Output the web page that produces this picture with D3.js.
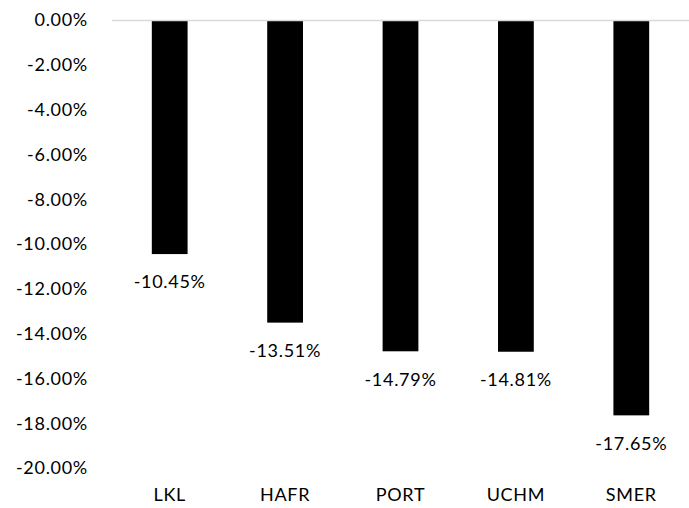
<!DOCTYPE html>
<html>
<head>
<meta charset="utf-8">
<script src="https://cdn.jsdelivr.net/npm/d3@7"></script>
<style>
  body { margin: 0; background: #fff; }
  text { font-family: "Lato", "Open Sans", sans-serif; font-size: 18px; letter-spacing: 0.7px; fill: #000; }
</style>
</head>
<body>
<svg id="chart" width="689" height="508"></svg>
<script>
var categories = ["LKL", "HAFR", "PORT", "UCHM", "SMER"];
var values = [-10.45, -13.51, -14.79, -14.81, -17.65];
var tickValues = [0, -2, -4, -6, -8, -10, -12, -14, -16, -18, -20];

var svg = d3.select("#chart");
var plotLeft = 112, plotRight = 689, plotTop = 20, plotBottom = 468;

var x = d3.scaleBand().domain(categories).range([plotLeft, plotRight]).paddingInner(0.69).paddingOuter(0.345);
var y = d3.scaleLinear().domain([0, -20]).range([plotTop, plotBottom]);

// y tick labels
svg.selectAll(".ytick").data(tickValues).enter().append("text")
  .attr("class", "ytick")
  .attr("x", 88)
  .attr("y", function(d){ return y(d); })
  .attr("dy", "0.35em")
  .attr("text-anchor", "end")
  .text(function(d){ return d.toFixed(2) + "%"; });

// bars
svg.selectAll(".bar").data(values).enter().append("rect")
  .attr("class", "bar")
  .attr("x", function(d, i){ return x(categories[i]); })
  .attr("y", y(0))
  .attr("width", x.bandwidth())
  .attr("height", function(d){ return y(d) - y(0); })
  .attr("fill", "#000");

// axis line at 0
svg.append("line")
  .attr("x1", plotLeft).attr("x2", plotRight)
  .attr("y1", y(0) + 0.5).attr("y2", y(0) + 0.5)
  .attr("stroke", "#d9d9d9").attr("stroke-width", 1.5);

// value labels
svg.selectAll(".vlabel").data(values).enter().append("text")
  .attr("class", "vlabel")
  .attr("x", function(d, i){ return x(categories[i]) + x.bandwidth() / 2; })
  .attr("y", function(d){ return y(d) + 28; })
  .attr("dy", "0.35em")
  .attr("text-anchor", "middle")
  .text(function(d){ return d.toFixed(2) + "%"; });

// category labels
svg.selectAll(".xlabel").data(categories).enter().append("text")
  .attr("class", "xlabel")
  .attr("x", function(d){ return x(d) + x.bandwidth() / 2; })
  .attr("y", 495)
  .attr("dy", "0.35em")
  .attr("text-anchor", "middle")
  .text(function(d){ return d; });
</script>
</body>
</html>
